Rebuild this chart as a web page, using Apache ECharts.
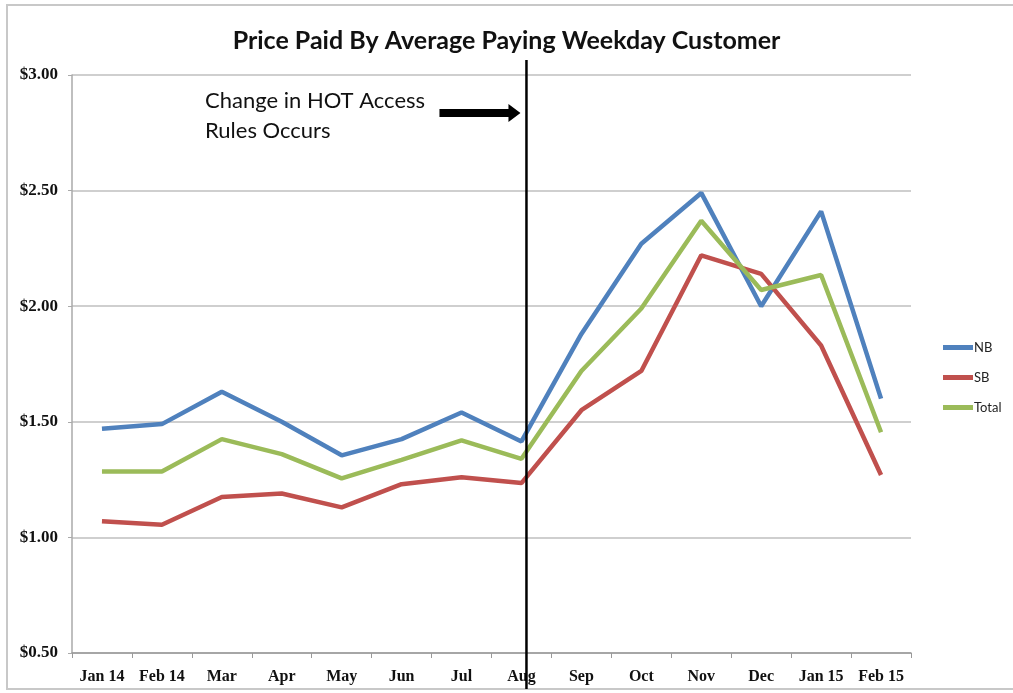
<!DOCTYPE html>
<html lang="en">
<head>
  <meta charset="UTF-8">
  <title>Price Paid By Average Paying Weekday Customer</title>
  <script src="https://cdn.jsdelivr.net/npm/echarts@6/dist/echarts.min.js"></script>
  <style>
    html, body { margin: 0; padding: 0; background: #fff; }
  </style>
</head>
<body>
<div id="chart" style="width: 1013px; height: 693px"></div>
<script>
  const months = ['Jan 14', 'Feb 14', 'Mar', 'Apr', 'May', 'Jun', 'Jul', 'Aug', 'Sep', 'Oct', 'Nov', 'Dec', 'Jan 15', 'Feb 15'];
  const nb = [1.47, 1.49, 1.63, 1.50, 1.355, 1.425, 1.54, 1.415, 1.88, 2.27, 2.49, 2.00, 2.41, 1.60];
  const sb = [1.07, 1.055, 1.175, 1.19, 1.13, 1.23, 1.26, 1.235, 1.55, 1.72, 2.22, 2.14, 1.83, 1.27];
  const total = [1.285, 1.285, 1.425, 1.36, 1.255, 1.335, 1.42, 1.34, 1.72, 1.99, 2.37, 2.07, 2.135, 1.455];
  const yTicks = [0.5, 1.0, 1.5, 2.0, 2.5, 3.0];
  const changeMonth = 'Aug';

  const gridColor = '#bfbfbf';
  const labelFont = {
    fontFamily: 'Liberation Serif, DejaVu Serif, serif',
    fontWeight: 'bold',
    fontSize: 16,
    color: '#111'
  };

  function line(name, data, color) {
    return {
      name: name,
      type: 'line',
      data: data,
      symbol: 'none',
      lineStyle: { color: color, width: 4.5 },
      itemStyle: { color: color },
      z: name === 'Total' ? 3 : 2
    };
  }

  const chart = echarts.init(document.getElementById('chart'));
  chart.setOption({
    animation: false,
    title: {
      text: 'Price Paid By Average Paying Weekday Customer',
      left: 'center',
      top: 23,
      textStyle: {
        fontFamily: 'Lato, Noto Sans, sans-serif',
        fontWeight: 'bold',
        fontSize: 25,
        color: '#111'
      }
    },
    legend: {
      orient: 'vertical',
      left: 938,
      top: 336,
      icon: 'rect',
      itemWidth: 30,
      itemHeight: 5,
      itemGap: 17,
      textStyle: { fontFamily: 'Lato, Noto Sans, sans-serif', fontSize: 13, color: '#222', padding: [0, 0, 0, -4] },
      data: ['NB', 'SB', 'Total']
    },
    grid: { left: 72, right: 102, top: 75, bottom: 40, containLabel: false },
    xAxis: {
      type: 'category',
      data: months,
      boundaryGap: true,
      axisLine: { lineStyle: { color: '#999', width: 1.5 } },
      axisTick: { show: true, length: 5, lineStyle: { color: '#999' } },
      axisLabel: Object.assign({ margin: 16, interval: 0 }, labelFont)
    },
    yAxis: {
      type: 'value',
      min: yTicks[0],
      max: yTicks[yTicks.length - 1],
      interval: 0.5,
      axisLine: { show: true, lineStyle: { color: '#aaa', width: 1.5 } },
      axisTick: { show: true, length: 4, lineStyle: { color: '#aaa' } },
      splitLine: { lineStyle: { color: gridColor, width: 1.5 } },
      axisLabel: Object.assign({}, labelFont, { margin: 14, fontSize: 17, formatter: v => '$' + v.toFixed(2) })
    },
    series: [
      line('NB', nb, '#4f81bd'),
      line('SB', sb, '#c0504d'),
      line('Total', total, '#9bbb59')
    ]
  });

  // vertical marker and annotation, placed from the category scale
  const xChange = chart.convertToPixel({ xAxisIndex: 0 }, changeMonth) + 5;
  chart.setOption({
    graphic: [
      {
        type: 'rect',
        shape: { x: 7, y: 5, width: 1020, height: 684 },
        style: { fill: 'none', stroke: '#c8c8c8', lineWidth: 2 },
        silent: true
      },
      {
        type: 'line',
        shape: { x1: xChange, y1: 60, x2: xChange, y2: 689 },
        style: { stroke: '#000', lineWidth: 2.5 },
        z: 10
      },
      {
        type: 'polygon',
        shape: {
          points: [
            [xChange - 87, 109], [xChange - 18, 109], [xChange - 18, 104],
            [xChange - 6, 113], [xChange - 18, 122], [xChange - 18, 117],
            [xChange - 87, 117]
          ]
        },
        style: { fill: '#000' },
        z: 10
      },
      {
        type: 'text',
        left: 205,
        top: 86,
        style: {
          text: 'Change in HOT Access\nRules Occurs',
          font: '22px Lato, "Noto Sans", sans-serif',
          lineHeight: 30,
          fill: '#111'
        },
        z: 10
      }
    ]
  });
</script>
</body>
</html>
